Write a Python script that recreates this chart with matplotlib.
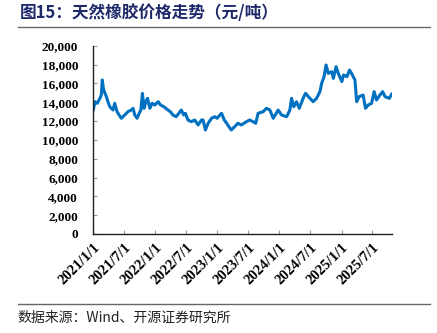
import matplotlib
matplotlib.use("Agg")
import matplotlib.pyplot as plt
import numpy as np
import pandas as pd

plt.rcParams['font.family'] = ['Noto Sans CJK SC', 'DejaVu Sans']

# 天然橡胶价格（元/吨）
dates = [
    "2021-01-01", "2021-01-11", "2021-01-24", "2021-02-09", "2021-02-17", "2021-02-23",
    "2021-03-01", "2021-03-07", "2021-03-19", "2021-03-28", "2021-04-08", "2021-04-17",
    "2021-04-27", "2021-05-07", "2021-05-21", "2021-06-02", "2021-06-15", "2021-07-05",
    "2021-07-24", "2021-08-13", "2021-08-23", "2021-09-02", "2021-09-16", "2021-09-28",
    "2021-10-08", "2021-10-17", "2021-10-27", "2021-11-06", "2021-11-16", "2021-11-30",
    "2021-12-13", "2021-12-29", "2022-01-18", "2022-02-01", "2022-02-20", "2022-03-16",
    "2022-03-30", "2022-04-15", "2022-05-04", "2022-06-03", "2022-06-17", "2022-06-27",
    "2022-07-12", "2022-08-01", "2022-08-21", "2022-09-10", "2022-09-30", "2022-10-09",
    "2022-10-23", "2022-11-08", "2022-11-28", "2022-12-17", "2022-12-31", "2023-01-16",
    "2023-01-26", "2023-02-11", "2023-02-25", "2023-03-10", "2023-03-24", "2023-04-13",
    "2023-05-02", "2023-05-22", "2023-06-21", "2023-07-10", "2023-07-30", "2023-08-15",
    "2023-08-29", "2023-09-28", "2023-10-17", "2023-11-06", "2023-11-26", "2023-12-25",
    "2024-01-14", "2024-02-13", "2024-03-03", "2024-03-13", "2024-03-26", "2024-04-11",
    "2024-04-27", "2024-05-20", "2024-06-03", "2024-06-29", "2024-07-18", "2024-08-07",
    "2024-08-27", "2024-09-06", "2024-09-20", "2024-10-02", "2024-10-15", "2024-11-04",
    "2024-11-14", "2024-11-30", "2024-12-13", "2025-01-03", "2025-01-13", "2025-02-02",
    "2025-02-17", "2025-03-01", "2025-03-21", "2025-03-31", "2025-04-15", "2025-05-08",
    "2025-05-22", "2025-06-07", "2025-06-27", "2025-07-12", "2025-07-26", "2025-08-15",
    "2025-08-31", "2025-09-14", "2025-10-09", "2025-10-23",
]
prices = [
    13170, 14050, 13880, 14410, 14760, 16360,
    15470, 15120, 14590, 14050, 13520, 13350,
    13170, 13880, 12990, 12640, 12290, 12640,
    12990, 13170, 13350, 12640, 12290, 12820,
    13170, 14940, 13350, 14050, 14410, 13350,
    13880, 13700, 14050, 13700, 13520, 13170,
    12990, 12640, 12460, 13170, 12640, 12820,
    12110, 11930, 12110, 11580, 12110, 12110,
    11050, 11760, 12290, 12460, 12290, 12640,
    12820, 12110, 11760, 11400, 11050, 11400,
    11760, 11580, 11930, 12110, 11930, 11760,
    12820, 12990, 13350, 13170, 12290, 13170,
    12640, 12460, 13170, 14410, 13520, 14050,
    13350, 14410, 14940, 14410, 14050, 14410,
    15120, 16000, 16710, 17950, 17060, 17240,
    16530, 17770, 17060, 16180, 16890, 16710,
    17420, 17060, 16360, 14050, 14590, 14760,
    13350, 13700, 13880, 15120, 14230, 14760,
    15120, 14590, 14410, 14850,
]

tick_dates = ["2021-01-01", "2021-07-01", "2022-01-01", "2022-07-01", "2023-01-01",
              "2023-07-01", "2024-01-01", "2024-07-01", "2025-01-01", "2025-07-01"]
tick_labels = ["2021/1/1", "2021/7/1", "2022/1/1", "2022/7/1", "2023/1/1",
               "2023/7/1", "2024/1/1", "2024/7/1", "2025/1/1", "2025/7/1"]
y_ticks = np.arange(0, 20001, 2000)

x = pd.to_datetime(dates)

fig = plt.figure(figsize=(4.37, 3.33), dpi=100)
ax = fig.add_axes([0.2135, 0.2973, 0.6835, 0.5655])

ax.plot(x, prices, color="#0070C0", linewidth=2.2, solid_joinstyle="round")

ax.set_xlim(pd.Timestamp("2021-01-01"), pd.Timestamp("2025-10-25"))
ax.set_ylim(0, 20000)

ax.set_xticks(pd.to_datetime(tick_dates))
ax.set_xticklabels(tick_labels, rotation=45, ha="right", rotation_mode="anchor",
                   family="Liberation Serif", fontweight="bold", fontsize=10.5)
ax.set_yticks(y_ticks)
ax.set_yticklabels([f"{v:,}" for v in y_ticks], family="Liberation Serif",
                   fontweight="bold", fontsize=9.5)

ax.tick_params(axis="x", direction="in", length=3, width=0.8, color="#999999", pad=5)
ax.tick_params(axis="y", direction="in", length=3, width=0.8, color="#999999", pad=11)

for side in ("top", "right"):
    ax.spines[side].set_visible(False)
for side in ("left", "bottom"):
    ax.spines[side].set_color("#222222")
    ax.spines[side].set_linewidth(1.0)

# 标题与分隔线
fig.text(0.045, 0.96, "图15：天然橡胶价格走势（元/吨）", fontsize=12, fontweight="bold",
         color="#1F2A6B", va="center", ha="left")
fig.add_artist(plt.Line2D([0.041, 0.985], [0.919, 0.919], color="#666666", linewidth=1.0))
fig.add_artist(plt.Line2D([0.041, 0.985], [0.086, 0.086], color="#666666", linewidth=1.0))
fig.text(0.041, 0.045, "数据来源：Wind、开源证券研究所", fontsize=10, color="#222222",
         va="center", ha="left")

fig.savefig("out.png", dpi=100)
